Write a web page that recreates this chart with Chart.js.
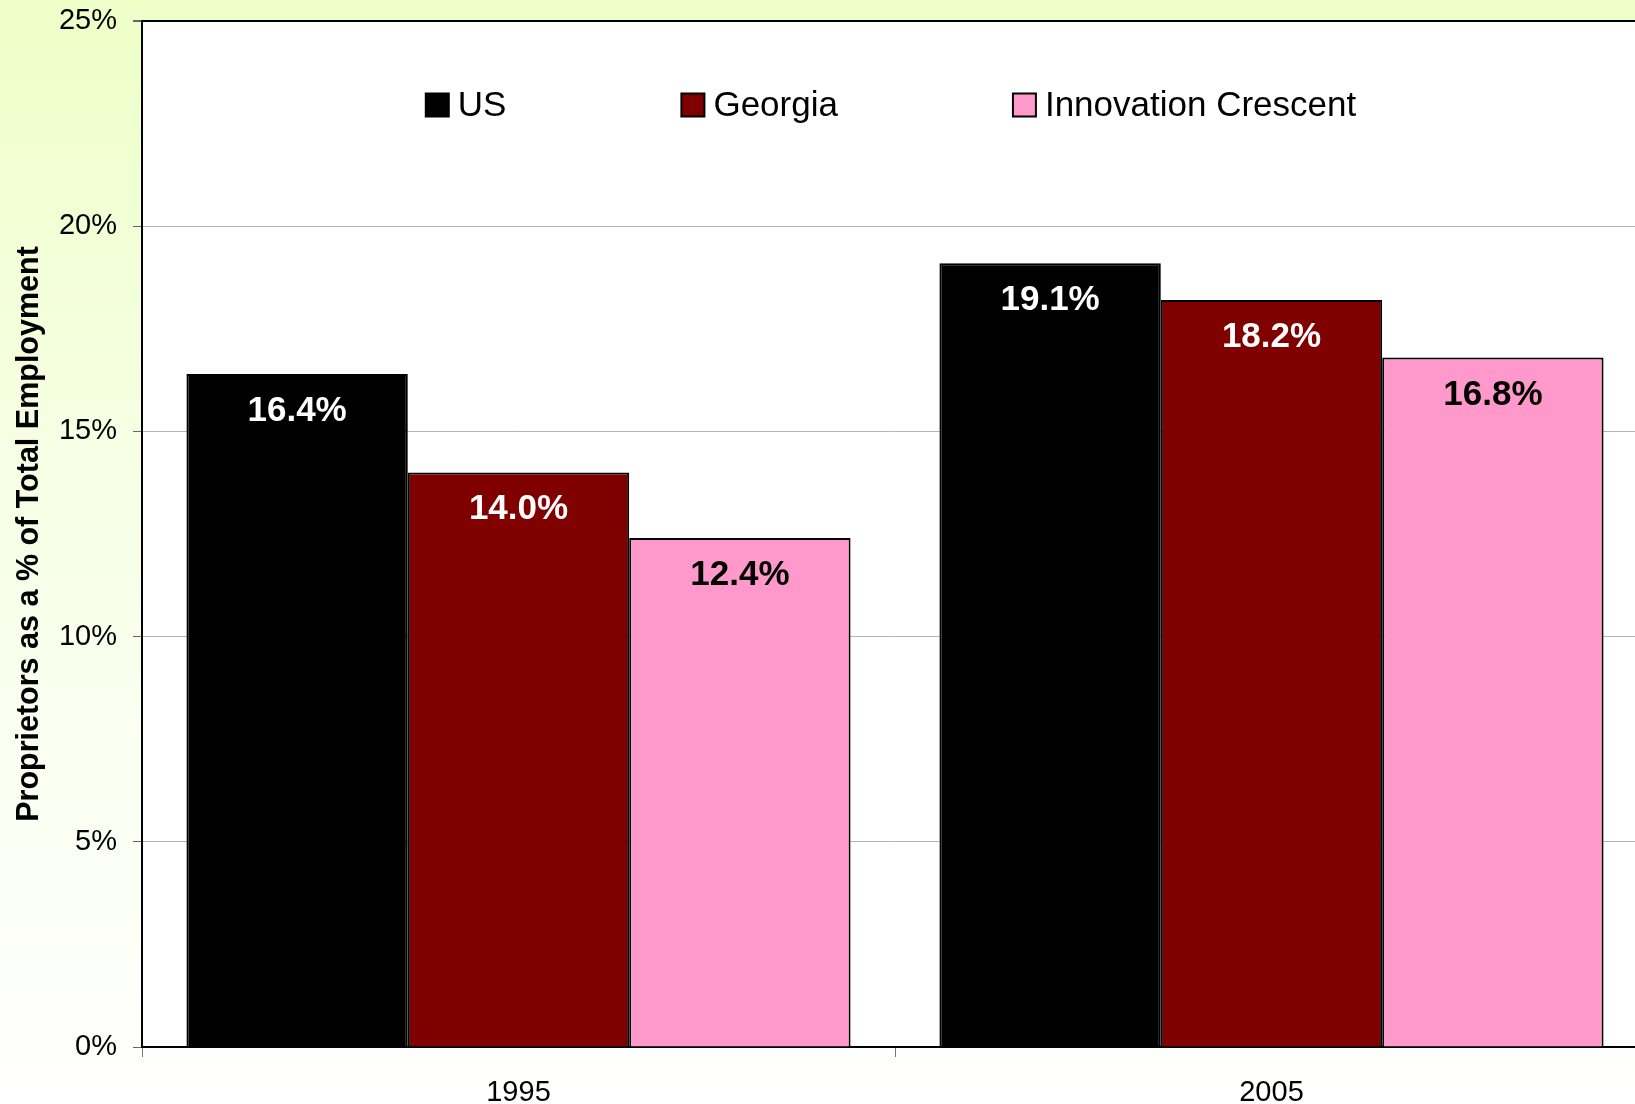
<!DOCTYPE html>
<html lang="en">
<head>
    <meta charset="UTF-8">
    <title>Proprietors as a % of Total Employment</title>
    <script src="https://cdn.jsdelivr.net/npm/chart.js"></script>
    <style>
        html, body {
            margin: 0;
            padding: 0;
            overflow: hidden;
        }
        body {
            width: 1635px;
            height: 1104px;
            background: linear-gradient(to bottom, #eeffc8 0%, #f7ffe6 45%, #ffffff 100%);
        }
        .chart-wrap {
            position: relative;
            width: 1660px;
            height: 1104px;
        }
    </style>
</head>
<body>
    <div class="chart-wrap">
        <canvas id="propChart"></canvas>
    </div>

    <script>
        // data
        const years = ['1995', '2005'];
        const seriesNames = ['US', 'Georgia', 'Innovation Crescent'];
        const usValues = [16.4, 19.1];
        const georgiaValues = [14.0, 18.2];
        const crescentValues = [12.4, 16.8];
        const yTicks = [0, 5, 10, 15, 20, 25];

        const fillColors = ['#000000', '#800000', '#ff99cc'];
        const labelColors = ['#ffffff', '#ffffff', '#000000'];
        const FONT = '"Liberation Sans", Arial, sans-serif';

        // white plot area
        const plotBackground = {
            id: 'plotBackground',
            beforeDraw(chart) {
                const { ctx, chartArea } = chart;
                ctx.save();
                ctx.fillStyle = '#ffffff';
                ctx.fillRect(chartArea.left, chartArea.top, chartArea.right - chartArea.left, chartArea.bottom - chartArea.top);
                ctx.restore();
            }
        };

        // value labels inside the top of each bar
        const barLabels = {
            id: 'barLabels',
            afterDatasetsDraw(chart) {
                const ctx = chart.ctx;
                ctx.save();
                ctx.font = 'bold 35px ' + FONT;
                ctx.textAlign = 'center';
                ctx.textBaseline = 'alphabetic';
                chart.data.datasets.forEach((ds, i) => {
                    const meta = chart.getDatasetMeta(i);
                    ctx.fillStyle = labelColors[i];
                    meta.data.forEach((bar, j) => {
                        ctx.fillText(ds.data[j].toFixed(1) + '%', bar.x, bar.y + 47);
                    });
                });
                ctx.restore();
            }
        };

        // legend drawn inside the plot area
        const innerLegend = {
            id: 'innerLegend',
            afterDraw(chart) {
                const { ctx, chartArea } = chart;
                const box = 23, gap = 9, spacing = 175, y = 105;
                ctx.save();
                ctx.font = '35px ' + FONT;
                ctx.textBaseline = 'middle';
                const widths = chart.data.datasets.map(ds => ctx.measureText(ds.label).width);
                const total = widths.reduce((a, w) => a + box + gap + w, 0) + spacing * (widths.length - 1);
                let x = (chartArea.left + chartArea.right) / 2 - total / 2 - 4;
                chart.data.datasets.forEach((ds, i) => {
                    ctx.fillStyle = ds.backgroundColor;
                    ctx.fillRect(x, y - box / 2, box, box);
                    ctx.strokeStyle = '#000';
                    ctx.lineWidth = 2;
                    ctx.strokeRect(x, y - box / 2, box, box);
                    ctx.fillStyle = '#000';
                    ctx.fillText(ds.label, x + box + gap, y + 1);
                    x += box + gap + widths[i] + spacing;
                });
                ctx.restore();
            }
        };

        const allValues = [usValues, georgiaValues, crescentValues];

        new Chart(document.getElementById('propChart'), {
            type: 'bar',
            data: {
                labels: years,
                datasets: seriesNames.map((name, i) => ({
                    label: name,
                    data: allValues[i],
                    backgroundColor: fillColors[i],
                    borderColor: '#000000',
                    borderWidth: 2,
                    categoryPercentage: 0.882,
                    barPercentage: 1.0
                }))
            },
            options: {
                responsive: true,
                maintainAspectRatio: false,
                animation: false,
                layout: {
                    padding: { top: 21, right: 12, bottom: 0, left: 0 }
                },
                plugins: {
                    legend: { display: false },
                    tooltip: { enabled: false }
                },
                scales: {
                    x: {
                        offset: true,
                        afterFit: scale => {
                            scale.height = 57;
                            scale.paddingLeft = 0;
                            scale.paddingRight = 0;
                        },
                        grid: {
                            offset: true,
                            drawOnChartArea: false,
                            drawTicks: true,
                            tickLength: 10,
                            tickColor: '#777777'
                        },
                        border: { color: '#000000', width: 2 },
                        ticks: {
                            color: '#000000',
                            padding: 19,
                            font: { family: FONT, size: 29 }
                        }
                    },
                    y: {
                        min: 0,
                        max: 25,
                        afterBuildTicks: scale => {
                            scale.ticks = yTicks.map(v => ({ value: v }));
                        },
                        afterFit: scale => {
                            scale.width = 142;
                            scale.paddingTop = 0;
                            scale.paddingBottom = 0;
                        },
                        grid: {
                            color: ctx => ctx.tick && ctx.tick.value === 25 ? '#000000' : '#b4b4b4',
                            lineWidth: ctx => ctx.tick && ctx.tick.value === 25 ? 2 : 1,
                            tickLength: 9,
                            tickColor: '#666666'
                        },
                        border: { color: '#000000', width: 2 },
                        ticks: {
                            color: '#000000',
                            padding: 16,
                            font: { family: FONT, size: 29 },
                            callback: v => v + '%'
                        },
                        title: {
                            display: true,
                            text: 'Proprietors as a % of Total Employment',
                            color: '#000000',
                            padding: { top: 11, bottom: 0 },
                            font: { family: FONT, size: 30.5, weight: 'bold' }
                        }
                    }
                }
            },
            plugins: [plotBackground, barLabels, innerLegend]
        });
    </script>
</body>
</html>
